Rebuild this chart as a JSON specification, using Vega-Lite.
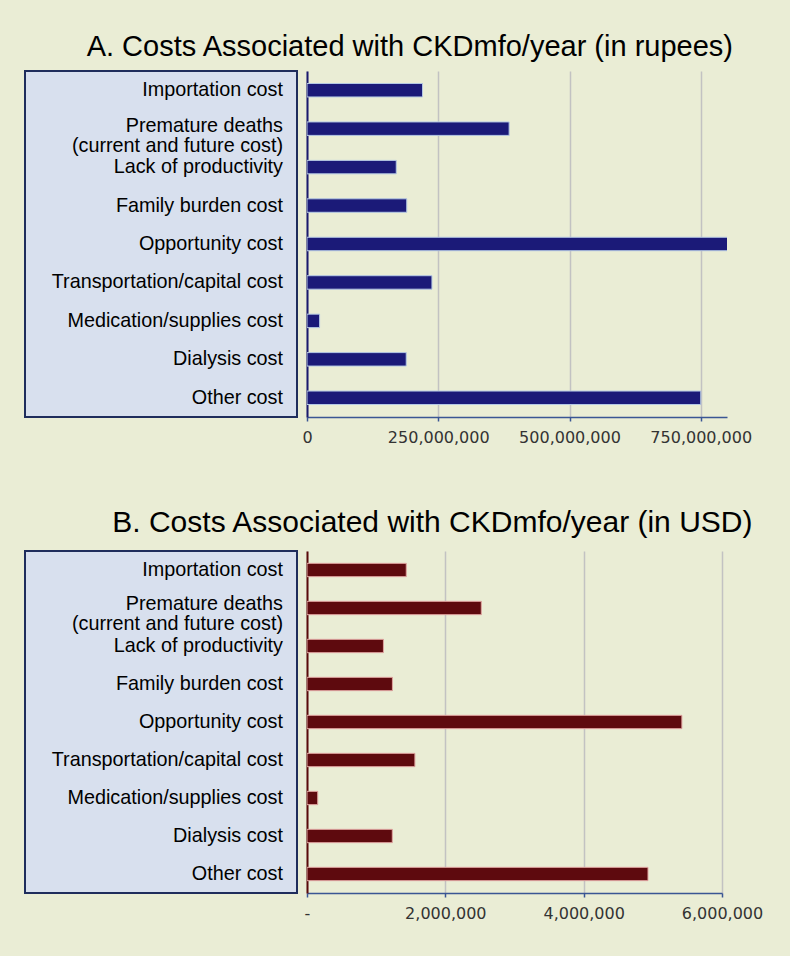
{
  "$schema": "https://vega.github.io/schema/vega-lite/v6.json",
  "background": "#eaedd5",
  "padding": {"left": 24, "top": 33, "right": 30, "bottom": 36},
  "datasets": {
    "costs": [
      {"cat": "Importation cost", "rupees": 220000000, "usd": 1435000},
      {"cat": "Premature deaths\n(current and future cost)", "rupees": 385000000, "usd": 2520000},
      {"cat": "Lack of productivity", "rupees": 170000000, "usd": 1105000},
      {"cat": "Family burden cost", "rupees": 190000000, "usd": 1235000},
      {"cat": "Opportunity cost", "rupees": 829000000, "usd": 5420000},
      {"cat": "Transportation/capital cost", "rupees": 238000000, "usd": 1560000},
      {"cat": "Medication/supplies cost", "rupees": 24000000, "usd": 155000},
      {"cat": "Dialysis cost", "rupees": 189000000, "usd": 1233000},
      {"cat": "Other cost", "rupees": 750000000, "usd": 4930000}
    ]
  },
  "config": {
    "font": "Liberation Sans",
    "view": {"stroke": null},
    "title": {"font": "Liberation Sans", "fontWeight": "normal", "color": "#000000", "anchor": "middle"},
    "axis": {
      "labelFont": "DejaVu Sans",
      "labelFontSize": 16,
      "labelColor": "#333333",
      "labelFlush": false,
      "labelOverlap": false
    },
    "axisY": {"minExtent": 0}
  },
  "spacing": 63,
  "vconcat": [
    {
      "title": {"text": "A. Costs Associated with CKDmfo/year (in rupees)", "fontSize": 29, "dx": 22, "offset": 8},
      "spacing": 3,
      "hconcat": [
        {
          "width": 272,
          "height": 346,
          "view": {"fill": "#d8e0ee", "stroke": "#1f2d5c", "strokeWidth": 2},
          "data": {"name": "costs"},
          "encoding": {
            "y": {"field": "cat", "type": "nominal", "sort": null, "scale": {"paddingInner": 0.65, "paddingOuter": 0.325}, "axis": null},
            "x": {"datum": 1, "type": "quantitative", "scale": {"domain": [0, 1]}, "axis": null}
          },
          "layer": [
            {
              "mark": {"type": "text", "align": "right", "baseline": "middle", "fontSize": 19.8, "dx": -14, "color": "#000000", "font": "Liberation Sans"},
              "encoding": {"text": {"condition": {"test": "indexof(datum.cat, '(') >= 0", "value": ""}, "field": "cat"}}
            },
            {
              "mark": {"type": "text", "align": "right", "baseline": "middle", "fontSize": 19.8, "lineBreak": "\n", "lineHeight": 20, "dx": -14, "dy": -3, "color": "#000000", "font": "Liberation Sans"},
              "encoding": {"text": {"condition": {"test": "indexof(datum.cat, '(') < 0", "value": ""}, "field": "cat"}}
            }
          ]
        },
        {
          "width": 420,
          "height": 346,
          "data": {"name": "costs"},
          "mark": {"type": "bar", "color": "#1b1a78", "stroke": "#b4c8e4", "strokeWidth": 1, "clip": true},
          "encoding": {
            "y": {"field": "cat", "type": "nominal", "sort": null, "scale": {"paddingInner": 0.65, "paddingOuter": 0.325},
                  "axis": {"labels": false, "ticks": false, "title": null, "grid": false, "domainColor": "#1b1a6e", "domainWidth": 2}},
            "x": {"field": "rupees", "type": "quantitative", "scale": {"domain": [0, 800000000], "nice": false},
                  "axis": {"values": [0, 250000000, 500000000, 750000000], "format": ",d", "title": null,
                           "grid": true, "gridColor": "#c2c2c2", "gridWidth": 1.5,
                           "domainColor": "#3a5694", "domainWidth": 1.5, "tickColor": "#3a5694", "tickWidth": 1.5, "tickSize": 4, "labelPadding": 8}}
          }
        }
      ]
    },
    {
      "title": {"text": "B. Costs Associated with CKDmfo/year (in USD)", "fontSize": 30, "dx": 39, "offset": 12},
      "spacing": 6,
      "hconcat": [
        {
          "width": 272,
          "height": 342,
          "view": {"fill": "#d8e0ee", "stroke": "#1f2d5c", "strokeWidth": 2},
          "data": {"name": "costs"},
          "encoding": {
            "y": {"field": "cat", "type": "nominal", "sort": null, "scale": {"paddingInner": 0.65, "paddingOuter": 0.325}, "axis": null},
            "x": {"datum": 1, "type": "quantitative", "scale": {"domain": [0, 1]}, "axis": null}
          },
          "layer": [
            {
              "mark": {"type": "text", "align": "right", "baseline": "middle", "fontSize": 19.8, "dx": -14, "color": "#000000", "font": "Liberation Sans"},
              "encoding": {"text": {"condition": {"test": "indexof(datum.cat, '(') >= 0", "value": ""}, "field": "cat"}}
            },
            {
              "mark": {"type": "text", "align": "right", "baseline": "middle", "fontSize": 19.8, "lineBreak": "\n", "lineHeight": 20, "dx": -14, "dy": -4, "color": "#000000", "font": "Liberation Sans"},
              "encoding": {"text": {"condition": {"test": "indexof(datum.cat, '(') < 0", "value": ""}, "field": "cat"}}
            }
          ]
        },
        {
          "width": 415,
          "height": 342,
          "data": {"name": "costs"},
          "mark": {"type": "bar", "color": "#5e0a0e", "stroke": "#e0a4a0", "strokeWidth": 1, "clip": true},
          "encoding": {
            "y": {"field": "cat", "type": "nominal", "sort": null, "scale": {"paddingInner": 0.65, "paddingOuter": 0.325},
                  "axis": {"labels": false, "ticks": false, "title": null, "grid": false, "domainColor": "#5a0a0a", "domainWidth": 2}},
            "x": {"field": "usd", "type": "quantitative", "scale": {"domain": [0, 6000000], "nice": false},
                  "axis": {"values": [0, 2000000, 4000000, 6000000], "labelExpr": "datum.value == 0 ? '-' : format(datum.value, ',')", "title": null,
                           "grid": true, "gridColor": "#c2c2c2", "gridWidth": 1.5,
                           "domainColor": "#3a5694", "domainWidth": 1.5, "tickColor": "#3a5694", "tickWidth": 1.5, "tickSize": 4, "labelPadding": 8}}
          }
        }
      ]
    }
  ]
}
